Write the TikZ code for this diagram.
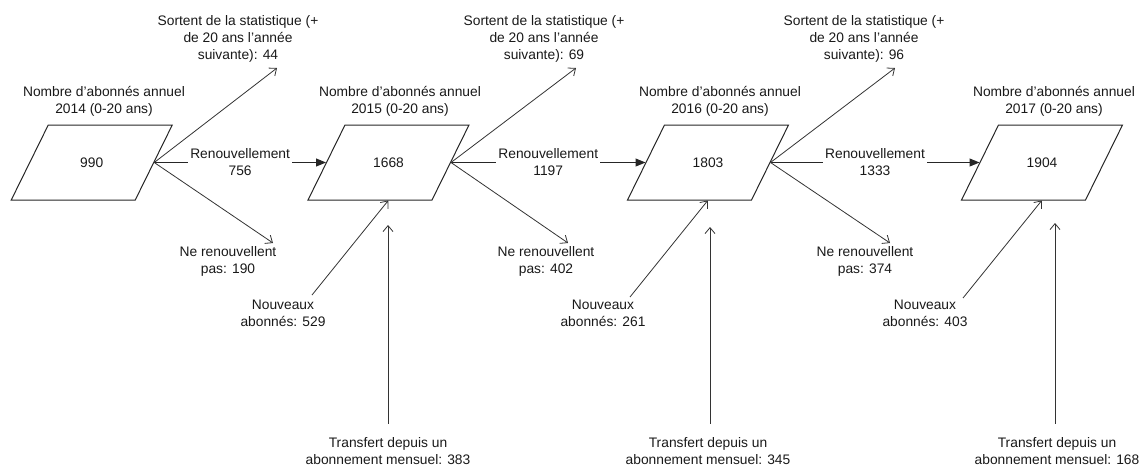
\documentclass[tikz,border=0pt]{standalone}
\usepackage{fontspec}
\setmainfont{Liberation Sans}
\usetikzlibrary{arrows.meta}
\begin{document}
\begin{tikzpicture}[x=1pt,y=-1pt,
  every node/.style={font=\fontsize{13.8}{17}\selectfont, align=center, inner sep=1pt, text=black!90},
  para/.style={draw=black!85, line width=1pt, xslant=0.4933, minimum width=124pt, minimum height=75pt, inner sep=0pt},
  flow/.style={draw=black!85, line width=1pt, -{Triangle[length=10pt,width=8pt]}},
  openarr/.style={draw=black!80, line width=0.8pt, -{Straight Barb[length=6pt,width=10pt]}},
  lbl/.style={fill=white, inner sep=2pt}
]
\useasboundingbox (0,0) rectangle (1140,466);

% parallelograms
\node[para] (s1) at (91.75,162.5) {};
\node[para] (s2) at (388.5,162.5) {};
\node[para] (s3) at (708,162.5) {};
\node[para] (s4) at (1042,162.5) {};
\node (n1) at (s1.center) {990};
\node (n2) at (s2.center) {1668};
\node (n3) at (s3.center) {1803};
\node (n4) at (s4.center) {1904};

% headings
\node (h1) at (104,101.5) {Nombre d’abonnés annuel\\2014 (0-20 ans)};
\node (h2) at (400,101.5) {Nombre d’abonnés annuel\\2015 (0-20 ans)};
\node (h3) at (720,101.5) {Nombre d’abonnés annuel\\2016 (0-20 ans)};
\node (h4) at (1054,101.5) {Nombre d’abonnés annuel\\2017 (0-20 ans)};

% renewals
\draw[flow] (s1.east) -- node[lbl] {Renouvellement\\756} (s2.west);
\draw[flow] (s2.east) -- node[lbl] {Renouvellement\\1197} (s3.west);
\draw[flow] (s3.east) -- node[lbl] {Renouvellement\\1333} (s4.west);

% leaving the statistic
\node (o1) at (238,38.5) {Sortent de la statistique (+\\de 20 ans l’année\\suivante): 44};
\node (o2) at (544,38.5) {Sortent de la statistique (+\\de 20 ans l’année\\suivante): 69};
\node (o3) at (864,38.5) {Sortent de la statistique (+\\de 20 ans l’année\\suivante): 96};
\coordinate (oe1) at (277,68);
\coordinate (oe2) at (576,68);
\coordinate (oe3) at (895,68);
\draw[openarr] (s1.east) -- (oe1);
\draw[openarr] (s2.east) -- (oe2);
\draw[openarr] (s3.east) -- (oe3);

% not renewing
\node (r1) at (228,261.5) {Ne renouvellent\\pas: 190};
\node (r2) at (546,261.5) {Ne renouvellent\\pas: 402};
\node (r3) at (865,261.5) {Ne renouvellent\\pas: 374};
\coordinate (re1) at (273,243);
\coordinate (re2) at (568,243);
\coordinate (re3) at (890,243);
\draw[openarr] (s1.east) -- (re1);
\draw[openarr] (s2.east) -- (re2);
\draw[openarr] (s3.east) -- (re3);

% new subscribers
\node (a1) at (283,313.5) {Nouveaux\\abonnés: 529};
\node (a2) at (603,313.5) {Nouveaux\\abonnés: 261};
\node (a3) at (925,313.5) {Nouveaux\\abonnés: 403};
\coordinate (as1) at (312,295);
\coordinate (as2) at (630,297);
\coordinate (as3) at (963,298);
\draw[openarr] (as1) -- ([xshift=18.5pt]s2.south);
\draw[openarr] (as2) -- ([xshift=18.5pt]s3.south);
\draw[openarr] (as3) -- ([xshift=18.5pt]s4.south);

% transfers
\node (t1) at (388,451.5) {Transfert depuis un\\abonnement mensuel: 383};
\node (t2) at (708,451.5) {Transfert depuis un\\abonnement mensuel: 345};
\node (t3) at (1057,451.5) {Transfert depuis un\\abonnement mensuel: 168};
\coordinate (te1) at (388,225);
\coordinate (te2) at (710,227);
\coordinate (te3) at (1055,223);
\draw[openarr] (t1.north -| te1) ++(0,-13) -- (te1);
\draw[openarr] (t2.north -| te2) ++(0,-13) -- (te2);
\draw[openarr] (t3.north -| te3) ++(0,-13) -- (te3);
\end{tikzpicture}
\end{document}
